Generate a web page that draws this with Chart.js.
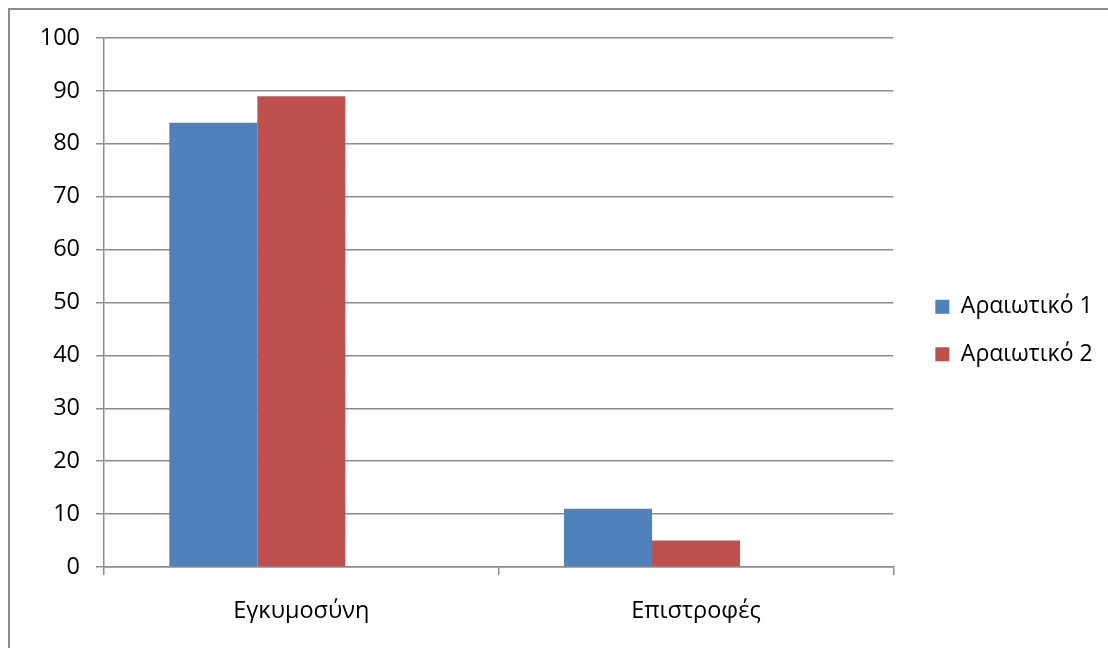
<!DOCTYPE html>
<html><head><meta charset="utf-8">
<script src="https://cdn.jsdelivr.net/npm/chart.js@4.4.1/dist/chart.umd.min.js"></script>
<style>
html,body{margin:0;padding:0;background:#fff;overflow:hidden;width:1108px;height:648px}
#frame{position:absolute;left:8px;top:8px;width:1200px;height:700px;border-left:2px solid #8c8c8c;border-top:2px solid #8c8c8c;box-sizing:border-box}
#c{position:absolute;left:0;top:0}
</style></head><body>
<div id="frame"></div>
<canvas id="c" width="1108" height="648"></canvas>
<script>
const categories = ['Εγκυμοσύνη', 'Επιστροφές'];
const series1Name = 'Αραιωτικό 1';
const series1 = [84, 11];
const series2Name = 'Αραιωτικό 2';
const series2 = [89, 5];
const series3Name = 'Σειρά 3';   // empty third series (keeps Excel's off-centre bar grouping)
const series3 = [null, null];
const yMin = 0, yMax = 100, yStep = 10;

const FONT = "'Open Sans', sans-serif";
Chart.defaults.font.family = FONT;
Chart.defaults.color = '#000';

new Chart(document.getElementById('c'), {
  type: 'bar',
  data: {
    labels: categories,
    datasets: [
      { label: series1Name, data: series1, backgroundColor: '#4F81BD', borderWidth: 0 },
      { label: series2Name, data: series2, backgroundColor: '#C0504D', borderWidth: 0 },
      { label: series3Name, data: series3, backgroundColor: '#9BBB59', borderWidth: 0 }
    ]
  },
  options: {
    responsive: false,
    animation: false,
    datasets: { bar: { barPercentage: 1, categoryPercentage: 0.669 } },
    layout: { padding: { top: 38, bottom: 25, left: 0, right: 15 } },
    plugins: {
      tooltip: { enabled: false },
      legend: {
        position: 'right',
        labels: {
          boxWidth: 14, boxHeight: 14, padding: 24.5,
          font: { size: 23, family: FONT }, color: '#000',
          filter: (item) => item.datasetIndex < 2
        }
      }
    },
    scales: {
      x: {
        grid: { display: true, drawOnChartArea: false, drawTicks: true, tickLength: 8, color: '#8c8c8c', lineWidth: 1.5, offset: true },
        border: { display: true, color: '#8c8c8c', width: 1.5 },
        ticks: { font: { size: 23.5 }, color: '#000', padding: 22, maxRotation: 0 },
        afterFit: (s) => { s.height = 56; }
      },
      y: {
        min: yMin, max: yMax,
        ticks: { stepSize: yStep, font: { size: 23.5 }, color: '#000', padding: 16 },
        grid: { color: '#8c8c8c', lineWidth: 1.5, tickLength: 8, drawTicks: true },
        border: { display: true, color: '#8c8c8c', width: 1.5 },
        afterFit: (s) => { s.width = 104; }
      },
      spacer: {
        type: 'linear', position: 'right', display: true,
        grid: { display: false, drawTicks: false },
        ticks: { display: false },
        border: { display: false },
        afterFit: (s) => { s.width = 17.5; }
      }
    }
  }
});
</script>
</body></html>
